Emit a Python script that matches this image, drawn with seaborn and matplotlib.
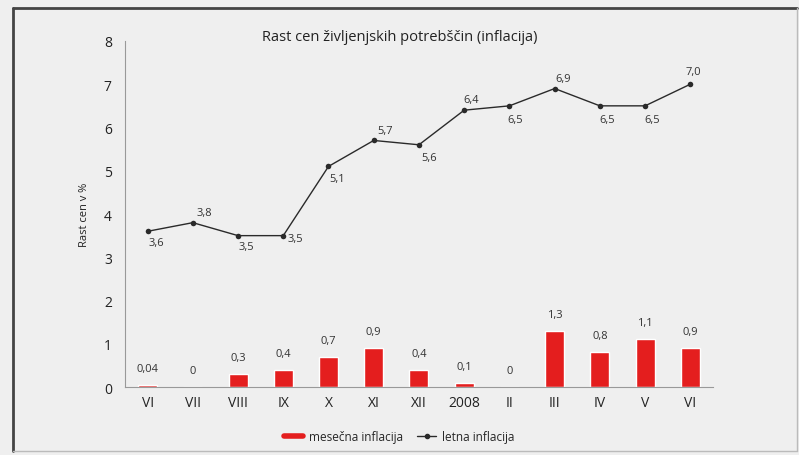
import matplotlib
matplotlib.use('Agg')
import matplotlib.pyplot as plt
import numpy as np
import pandas as pd
import seaborn as sns
from matplotlib.lines import Line2D

sns.set_theme(style="white")
plt.rcParams['font.family'] = ['Open Sans', 'DejaVu Sans']

# data
months = ['VI', 'VII', 'VIII', 'IX', 'X', 'XI', 'XII', '2008', 'II', 'III', 'IV', 'V', 'VI']
monthly = [0.04, 0, 0.3, 0.4, 0.7, 0.9, 0.4, 0.1, 0, 1.3, 0.8, 1.1, 0.9]
annual = [3.6, 3.8, 3.5, 3.5, 5.1, 5.7, 5.6, 6.4, 6.5, 6.9, 6.5, 6.5, 7.0]
monthly_txt = ['0,04', '0', '0,3', '0,4', '0,7', '0,9', '0,4', '0,1', '0', '1,3', '0,8', '1,1', '0,9']
annual_txt = ['3,6', '3,8', '3,5', '3,5', '5,1', '5,7', '5,6', '6,4', '6,5', '6,9', '6,5', '6,5', '7,0']
# label offsets (points) for the annual line
annual_off = [(6, -8), (8, 7), (6, -8), (9, -2), (6, -9), (8, 7), (7, -9), (5, 8),
              (4, -10), (6, 7), (5, -10), (5, -10), (2, 9)]

df = pd.DataFrame({'idx': np.arange(len(months)), 'monthly': monthly, 'annual': annual})

bg = '#efefef'
red = '#e41e1e'
dark = '#2a2a2a'
fig = plt.figure(figsize=(7.99, 4.56), dpi=100, facecolor=bg)
ax = fig.add_axes([0.1564, 0.149, 0.7359, 0.759])
ax.set_facecolor(bg)

sns.barplot(data=df, x='idx', y='monthly', color=red, width=0.42,
            saturation=1, ax=ax)
sns.lineplot(data=df, x='idx', y='annual', color=dark, lw=1.0, marker='o',
             markersize=4, markeredgewidth=0, ax=ax)

for i, (v, t) in enumerate(zip(monthly, monthly_txt)):
    ax.annotate(t, (i, v), xytext=(0, 8), textcoords='offset points',
                ha='center', va='bottom', fontsize=8, color='#333333')
for i, (v, t) in enumerate(zip(annual, annual_txt)):
    dx, dy = annual_off[i]
    ax.annotate(t, (i, v), xytext=(dx, dy), textcoords='offset points',
                ha='center', va='center', fontsize=8, color='#333333')

ax.set_xlim(-0.5, 12.5)
ax.set_ylim(0, 8)
ax.set_xticks(range(len(months)))
ax.set_xticklabels(months, fontsize=10, color='#222222')
ax.set_xticks(np.arange(-0.5, 13, 1), minor=True)
ax.tick_params(axis='x', which='major', length=0, pad=6)
ax.tick_params(axis='x', which='minor', length=3, direction='inout', color='#999999')
ax.set_yticks(range(0, 9))
ax.tick_params(axis='y', length=3, direction='inout', color='#999999',
               labelsize=10, labelcolor='#222222', pad=8)
ax.set_xlabel('')
ax.set_ylabel('Rast cen v %', fontsize=8, color='#222222', labelpad=10)

for s in ['top', 'right']:
    ax.spines[s].set_visible(False)
for s in ['left', 'bottom']:
    ax.spines[s].set_color('#999999')
    ax.spines[s].set_linewidth(0.8)

fig.text(0.5, 0.918, 'Rast cen življenjskih potrebščin (inflacija)',
         ha='center', va='center', fontsize=10.5, color='#222222')

handles = [Line2D([], [], color=red, lw=4),
           Line2D([], [], color=dark, lw=1, marker='o', markersize=3)]
ax.legend(handles, ['mesečna inflacija', 'letna inflacija'], loc='center',
          bbox_to_anchor=(0.5, 0.04), bbox_transform=fig.transFigure,
          ncol=2, frameon=False, fontsize=8.5, handlelength=1.6, columnspacing=1.2,
          handletextpad=0.5)

# outer frame: strong left/top edges, faint right/bottom
W, H = 799, 456
fig.add_artist(Line2D([13 / W, 13 / W], [1 - 452 / H, 1 - 9 / H], color='#444444', lw=2))
fig.add_artist(Line2D([13 / W, 797 / W], [1 - 9 / H, 1 - 9 / H], color='#444444', lw=2))
fig.add_artist(Line2D([797 / W, 797 / W], [1 - 452 / H, 1 - 9 / H], color='#bbbbbb', lw=1))
fig.add_artist(Line2D([13 / W, 797 / W], [1 - 452 / H, 1 - 452 / H], color='#bbbbbb', lw=1))

fig.savefig('out.png', dpi=100, facecolor=bg)
